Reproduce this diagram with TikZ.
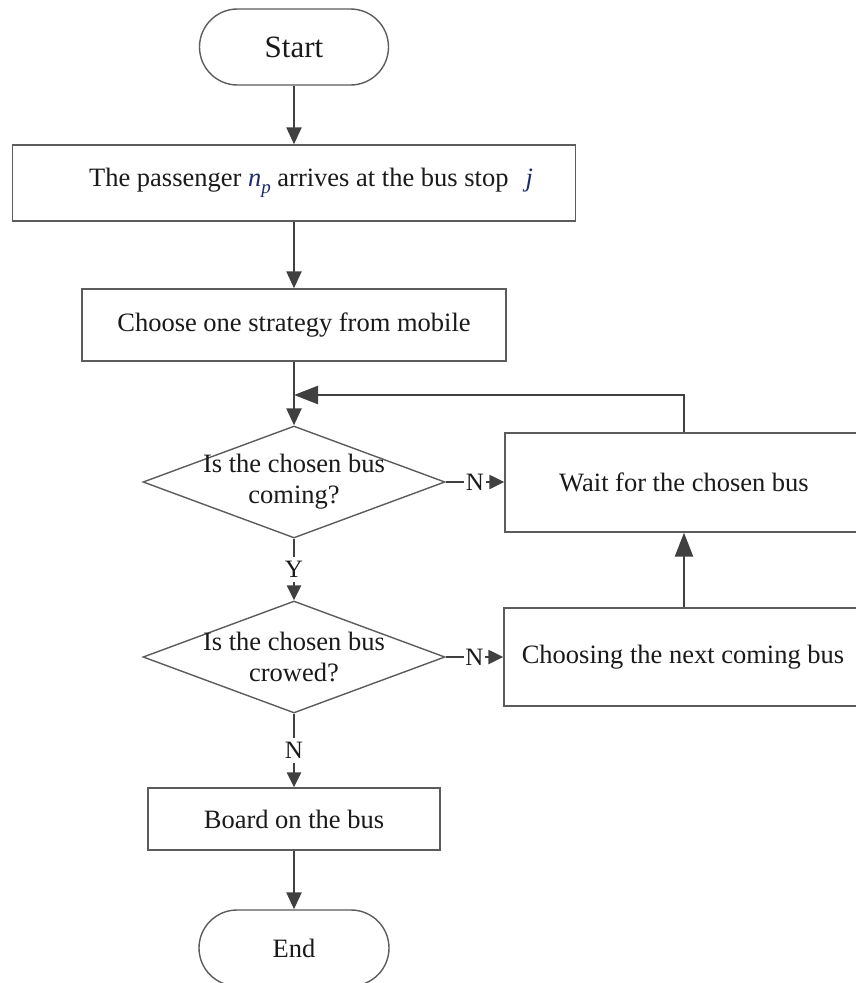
\documentclass[tikz,border=0pt]{standalone}
\usepackage{fontspec}
\setmainfont{Liberation Serif}
\usetikzlibrary{shapes.geometric,arrows.meta}
\definecolor{ln}{HTML}{404040}
\definecolor{bd}{HTML}{5C5C5C}
\definecolor{mv}{HTML}{1F2A6B}
\definecolor{tx}{HTML}{1A1A1A}
\begin{document}
\begin{tikzpicture}[x=1pt,y=-1pt,
  txt/.style={text=tx, font=\fontsize{26.5}{31}\selectfont},
  box/.style={draw=bd, line width=1.4pt, fill=white, inner sep=0pt, txt},
  term/.style={box, rounded corners=38pt},
  dec/.style={diamond, draw=bd, line width=1.4pt, fill=white, inner sep=0pt, minimum width=302pt, minimum height=112pt},
  conn/.style={draw=ln, line width=2.4pt, -{Triangle[length=17pt,width=15pt]}},
  bigconn/.style={draw=ln, line width=2.4pt, -{Triangle[length=24pt,width=18pt]}},
  lblconn/.style={draw=ln, line width=2.4pt, -{Triangle[length=15pt,width=14pt]}},
  lbl/.style={fill=white, inner sep=1.5pt, txt, font=\fontsize{25}{28}\selectfont},
  vlbl/.style={lbl, inner ysep=4pt}
]
\useasboundingbox (0,0) rectangle (856,983);
\clip (0,0) rectangle (856,983);
\fill[white] (0,0) rectangle (856,983);

\node[term, minimum width=189pt, minimum height=76pt, font=\fontsize{31}{34}\selectfont] (start) at (294,47) {Start};

\node[box, minimum width=563pt, minimum height=76pt] (b1) at (294,183)
  {\hspace*{34pt}The passenger {\color{mv}\itshape n\raisebox{-7pt}{\fontsize{19}{19}\selectfont p}} arrives at the bus stop\hspace{17pt}{\color{mv}\itshape j}};

\node[box, minimum width=424pt, minimum height=72pt] (b2) at (294,325) {Choose one strategy from mobile};

\node[dec] (d1) at (294,482) {};
\node[txt, align=center] (d1t) at (294,482) {Is the chosen bus\\coming?};

\node[dec] (d2) at (294,657) {};
\node[txt, align=center] (d2t) at (294,657) {Is the chosen bus\\crowed?};

\node[box, minimum width=358pt, minimum height=99pt] (wait) at (684,482.5) {};
\node[txt] (waitt) at (684,482.5) {Wait for the chosen bus};

\node[box, minimum width=360pt, minimum height=98pt] (next) at (684,657) {};
\node[txt] (nextt) at (683,657) {Choosing the next coming bus};

\node[box, minimum width=292pt, minimum height=62pt] (board) at (294,819) {Board on the bus};

\node[term, minimum width=190pt, minimum height=76pt] (end) at (294,948) {End};

\draw[conn] (start) -- (b1);
\draw[conn] (b1) -- (b2);
\draw[conn] (b2) -- (d1);
\draw[lblconn] (d1) -- node[vlbl]{Y} (d2);
\draw[lblconn] (d2) -- node[vlbl]{N} (board);
\draw[conn] (board) -- (end);
\draw[lblconn] (d1.east) -- node[lbl]{N} (wait.west |- d1.east);
\draw[lblconn] (d2.east) -- node[lbl]{N} (next.west |- d2.east);
\draw[bigconn] (next.north) -- (wait.south);
\coordinate (loop) at (294,395);
\draw[bigconn] (wait.north) |- (loop);
\end{tikzpicture}
\end{document}
